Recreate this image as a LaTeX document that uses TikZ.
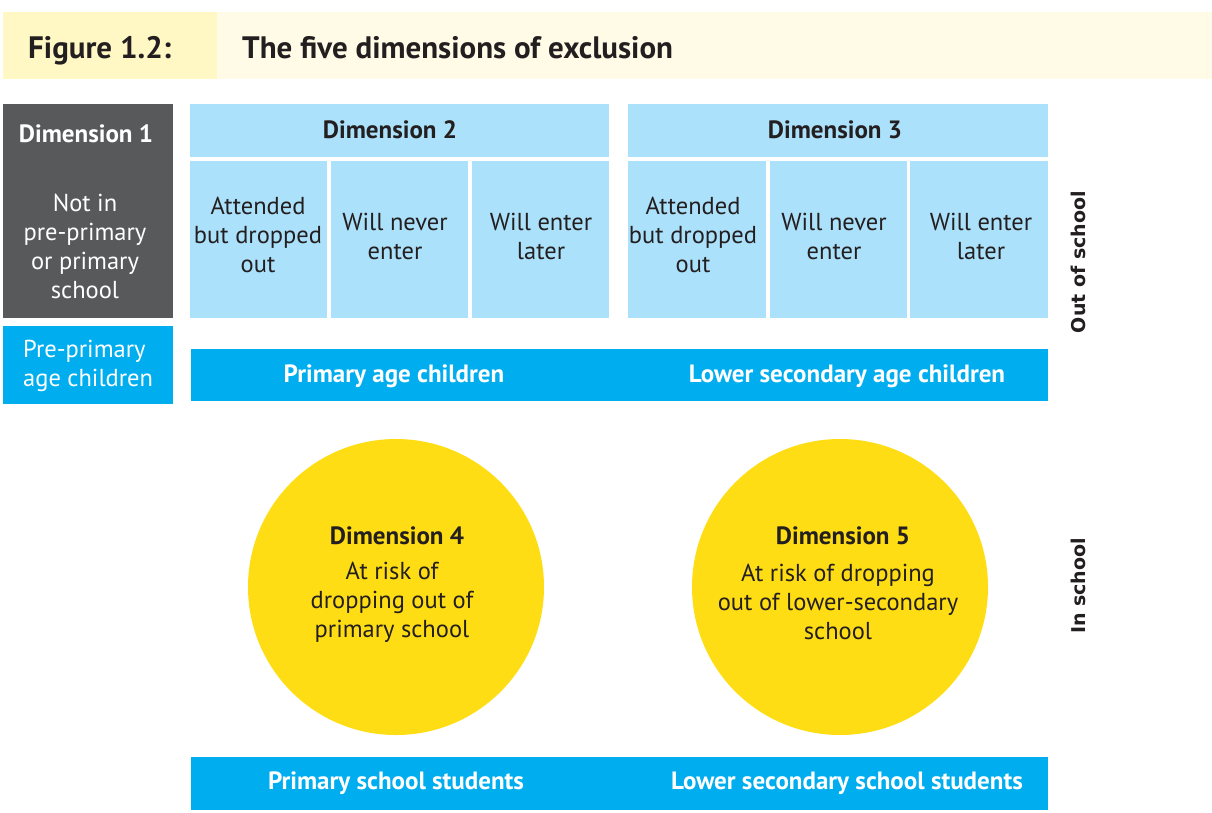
\documentclass[tikz,border=0pt]{standalone}
\usepackage{fontspec}
\setmainfont{PT Sans}
\newfontfamily\widefont{DejaVu Sans}
\definecolor{dgray}{HTML}{58595B}
\definecolor{lblue}{HTML}{ABE1FA}
\definecolor{cyanb}{HTML}{00AEEF}
\definecolor{ylw}{HTML}{FFDD15}
\definecolor{titleL}{HTML}{FFF8C4}
\definecolor{titleR}{HTML}{FFFBE6}
\definecolor{ink}{HTML}{231F20}
\begin{document}
\begin{tikzpicture}[x=1pt,y=-1pt,
  panel/.style={inner sep=0pt, outer sep=0pt, draw=none, anchor=north west},
  txt/.style={font=\fontsize{24.5}{29}\selectfont, align=center, text=ink, inner sep=0pt},
  btxt/.style={font=\fontsize{25}{29}\selectfont\bfseries, align=center, text=ink, inner sep=0pt},
  wtxt/.style={txt, text=white},
  wbtxt/.style={btxt, text=white},
  ttxt/.style={font=\fontsize{31}{34}\selectfont\bfseries, text=ink, inner sep=0pt, anchor=base west},
  sidelabel/.style={font=\fontsize{19}{22}\selectfont\widefont\bfseries, text=ink, rotate=90, inner sep=0pt},
  disc/.style={circle, fill=ylw, draw=none, minimum size=296pt, inner sep=0pt}]
\useasboundingbox (0,0) rectangle (1212,812);
\fill[white] (0,0) rectangle (1212,812);
% title band
\node[panel, fill=titleL, minimum width=214pt, minimum height=67pt] (tleft) at (3,12) {};
\node[panel, fill=titleR, minimum width=995pt, minimum height=67pt] (tright) at (217,12) {};
\node[ttxt] (fig) at (28,58) {Figure 1.2:};
\node[ttxt] (title) at (242,58) {The five dimensions of exclusion};
% dimension 1
\node[panel, fill=dgray, minimum width=170pt, minimum height=214pt] (d1) at (3,104) {};
\node[wbtxt] (d1h) at (86,134) {Dimension 1};
\node[wtxt] (d1t) at (85,246) {Not in\\pre-primary\\or primary\\school};
\node[panel, fill=cyanb, minimum width=170pt, minimum height=78pt] (pre) at (3,326) {};
\node[wtxt, align=left, anchor=west] (pret) at (23,366) {Pre-primary\\age children};
% dimension 2
\node[panel, fill=lblue, minimum width=419pt, minimum height=53pt] (d2) at (190,104) {};
\node[btxt] (d2h) at (390,130) {Dimension 2};
\node[panel, fill=lblue, minimum width=137pt, minimum height=157pt] (c21) at (190,161) {};
\node[panel, fill=lblue, minimum width=137pt, minimum height=157pt] (c22) at (331,161) {};
\node[panel, fill=lblue, minimum width=137pt, minimum height=157pt] (c23) at (472,161) {};
\node[txt] (c21t) at (258,235) {Attended\\but dropped\\out};
\node[txt] (c22t) at (395,236) {Will never\\enter};
\node[txt] (c23t) at (541,236) {Will enter\\later};
% dimension 3
\node[panel, fill=lblue, minimum width=420pt, minimum height=53pt] (d3) at (628,104) {};
\node[btxt] (d3h) at (835,130) {Dimension 3};
\node[panel, fill=lblue, minimum width=138pt, minimum height=157pt] (c31) at (628,161) {};
\node[panel, fill=lblue, minimum width=137pt, minimum height=157pt] (c32) at (770,161) {};
\node[panel, fill=lblue, minimum width=138pt, minimum height=157pt] (c33) at (910,161) {};
\node[txt] (c31t) at (693,235) {Attended\\but dropped\\out};
\node[txt] (c32t) at (834,236) {Will never\\enter};
\node[txt] (c33t) at (981,236) {Will enter\\later};
% age bar
\node[panel, fill=cyanb, minimum width=857pt, minimum height=52pt] (age) at (191,349) {};
\node[wbtxt] (aget1) at (394,376) {Primary age children};
\node[wbtxt] (aget2) at (847,376) {Lower secondary age children};
% side labels
\node[sidelabel] (out) at (1078,262) {Out of school};
\node[sidelabel] (in) at (1078,586) {In school};
% circles
\node[disc] (d4) at (396,587) {};
\node[disc] (d5) at (840,587) {};
\node[btxt] (d4h) at (397,536) {Dimension 4};
\node[txt] (d4t) at (392,602) {At risk of\\dropping out of\\primary school};
\node[btxt] (d5h) at (843,536) {Dimension 5};
\node[txt] (d5t) at (838,602) {At risk of dropping\\out of lower-secondary\\school};
% students bar
\node[panel, fill=cyanb, minimum width=857pt, minimum height=53pt] (stu) at (191,757) {};
\node[wbtxt] (stut1) at (396,783) {Primary school students};
\node[wbtxt] (stut2) at (847,783) {Lower secondary school students};
\end{tikzpicture}
\end{document}
